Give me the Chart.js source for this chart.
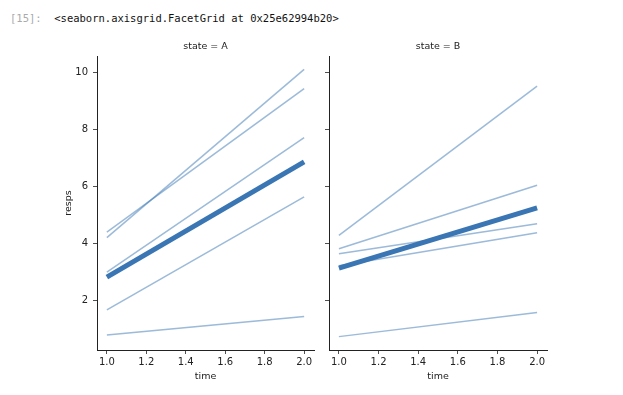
<!DOCTYPE html>
<html>
<head>
<meta charset="utf-8">
<script src="https://cdn.jsdelivr.net/npm/chart.js@4"></script>
<style>
  body { margin: 0; background: #fff; width: 623px; height: 395px; position: relative; overflow: hidden; }
  #prompt { position: absolute; left: 10px; top: 12px; font: 10.5px "DejaVu Sans Mono", monospace; white-space: pre; color: #111; }
  #prompt span { color: #aaa; }
  #panelA { position: absolute; left: 0; top: 0; }
  #panelB { position: absolute; left: 320px; top: 0; }
</style>
</head>
<body>
<div id="prompt"><span>[15]:</span>  &lt;seaborn.axisgrid.FacetGrid at 0x25e62994b20&gt;</div>
<canvas id="panelA" width="320" height="395"></canvas>
<canvas id="panelB" width="303" height="395"></canvas>
<script>
const times = [1.0, 2.0];
const xTicks = [1.0, 1.2, 1.4, 1.6, 1.8, 2.0];
const yTicks = [2, 4, 6, 8, 10];

// state = A, one line per subject: value at time 1 and time 2
const aStart = [4.21, 4.40, 3.00, 1.67, 0.79];
const aEnd = [10.12, 9.44, 7.72, 5.64, 1.44];
const aMean = [2.82, 6.87];

// state = B
const bStart = [4.29, 3.82, 3.64, 3.22, 0.73];
const bEnd = [9.53, 6.05, 4.70, 4.38, 1.58];
const bMean = [3.14, 5.25];

const BLUE = '#3a76b3';
const FAINT = 'rgba(58,118,179,0.5)';
const TXT = '#222';
const FONT = 'DejaVu Sans';

function buildDatasets(starts, ends, mean) {
    const sets = starts.map((s, i) => ({
        data: [{x: times[0], y: s}, {x: times[1], y: ends[i]}],
        borderColor: FAINT,
        borderWidth: 1.5,
        order: 1
    }));
    sets.push({
        data: times.map((t, i) => ({x: t, y: mean[i]})),
        borderColor: BLUE,
        borderWidth: 5,
        order: 0
    });
    return sets;
}

function makePanel(id, title, starts, ends, mean, first) {
    new Chart(document.getElementById(id), {
        type: 'line',
        data: { datasets: buildDatasets(starts, ends, mean) },
        options: {
            responsive: false,
            animation: false,
            events: [],
            elements: { point: { radius: 0 }, line: { tension: 0, borderCapStyle: 'butt' } },
            layout: { padding: { left: 0, right: first ? 6 : 76, top: 0, bottom: 0 } },
            plugins: {
                legend: { display: false },
                tooltip: { enabled: false },
                title: {
                    display: true,
                    text: title,
                    fullSize: false,
                    color: TXT,
                    font: { family: FONT, size: 9.5, weight: 'normal', lineHeight: 1.2 },
                    padding: { top: 41, bottom: 3.6 }
                }
            },
            scales: {
                x: {
                    type: 'linear',
                    min: 0.95,
                    max: 2.05,
                    afterBuildTicks: s => { s.ticks = xTicks.map(v => ({value: v})); },
                    afterFit: s => { s.height = 45; },
                    grid: { drawOnChartArea: false, tickLength: 4, color: TXT, tickWidth: 0.8 },
                    border: { display: true, color: TXT, width: 1 },
                    ticks: { color: TXT, padding: 2.5, maxRotation: 0, font: { family: FONT, size: 10 },
                             callback: v => v.toFixed(1) },
                    title: { display: true, text: 'time', color: TXT, font: { family: FONT, size: 9.5 },
                             padding: { top: 0, bottom: 13 } }
                },
                y: {
                    min: 0.26,
                    max: 10.59,
                    afterBuildTicks: s => { s.ticks = yTicks.map(v => ({value: v})); },
                    afterFit: s => { s.width = first ? 97 : 9; },
                    grid: { drawOnChartArea: false, tickLength: 4, color: TXT, tickWidth: 0.8 },
                    border: { display: true, color: TXT, width: 1 },
                    ticks: { display: first, color: TXT, padding: 5, font: { family: FONT, size: 10 } },
                    title: { display: first, text: 'resps', color: TXT, font: { family: FONT, size: 9.5 },
                             padding: { top: 63, bottom: 0 } }
                }
            }
        }
    });
}

makePanel('panelA', 'state = A', aStart, aEnd, aMean, true);
makePanel('panelB', 'state = B', bStart, bEnd, bMean, false);
</script>
</body>
</html>
